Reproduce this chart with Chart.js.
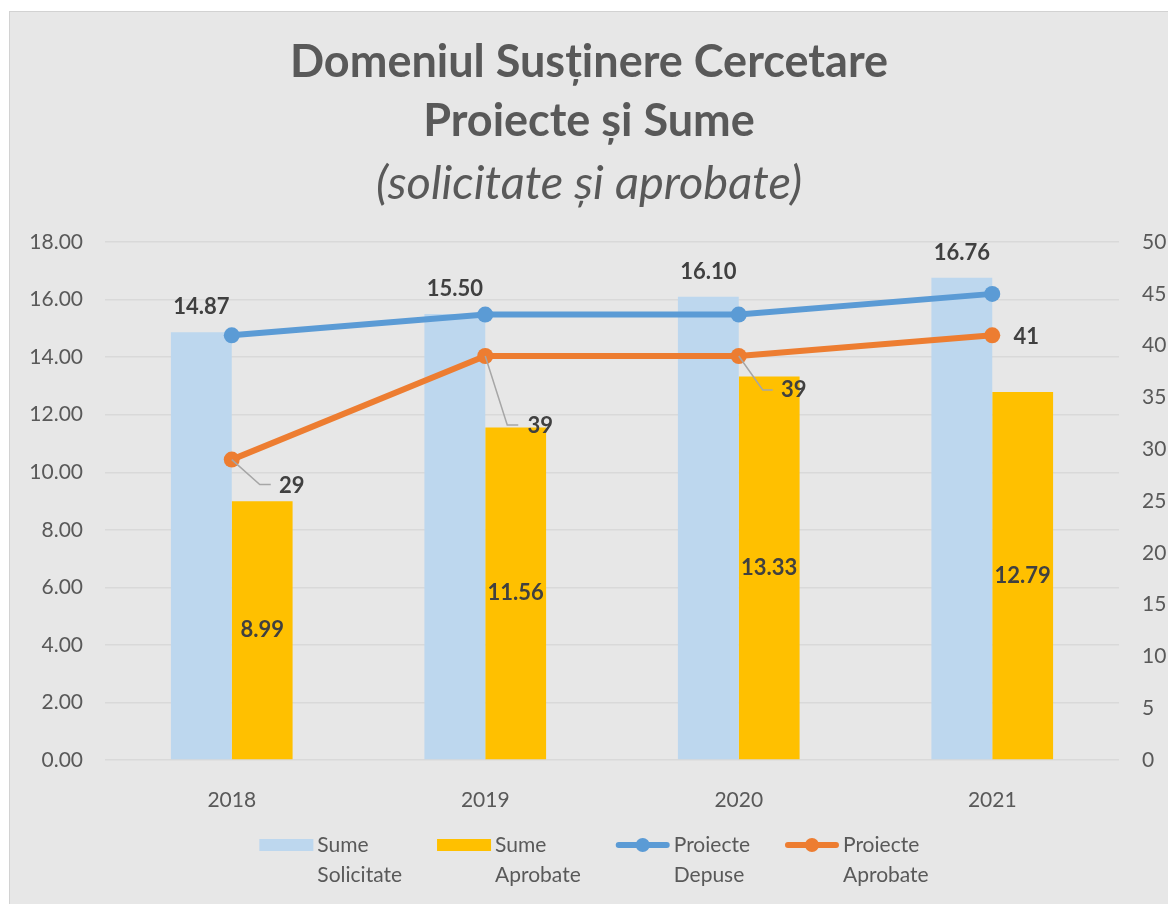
<!DOCTYPE html>
<html>
<head>
<meta charset="utf-8">
<title>Domeniul Susținere Cercetare</title>
<script src="https://cdn.jsdelivr.net/npm/chart.js@4.4.1/dist/chart.umd.min.js"></script>
<style>
    html, body { margin: 0; padding: 0; background: #fff; }
    #wrap {
        position: absolute; left: 9px; top: 11px;
        width: 1159px; height: 893px;
        border-left: 1px solid #d2d2d2; border-top: 1px solid #d2d2d2;
        box-sizing: border-box; background: #e7e7e7;
    }
    canvas { display: block; }
</style>
</head>
<body>
<div id="wrap"><canvas id="chart" width="1158" height="892"></canvas></div>
<script>
// date
const years = ['2018', '2019', '2020', '2021'];
const sumeSolicitate = [14.87, 15.50, 16.10, 16.76];
const sumeAprobate = [8.99, 11.56, 13.33, 12.79];
const proiecteDepuse = [41, 43, 43, 45];
const proiecteAprobate = [29, 39, 39, 41];
const sumeTicks = { min: 0, max: 18, step: 2 };
const proiecteTicks = { min: 0, max: 50, step: 5 };

const FONT = 'Lato, "Open Sans", sans-serif';
const TEXT = '#595959';
const LABEL = '#404040';

// etichete cu valori (fara chartjs-datalabels)
const valueLabels = {
    id: 'valueLabels',
    afterDatasetsDraw(chart, args, opts) {
        const ctx = chart.ctx;
        ctx.save();
        ctx.font = `bold 22px ${FONT}`;
        ctx.fillStyle = LABEL;
        ctx.textAlign = 'center';
        ctx.textBaseline = 'middle';

        chart.getDatasetMeta(0).data.forEach((bar, i) => {
            ctx.fillText(sumeSolicitate[i].toFixed(2), bar.x, bar.y - 25);
        });
        chart.getDatasetMeta(1).data.forEach((bar, i) => {
            ctx.fillText(sumeAprobate[i].toFixed(2), bar.x, (bar.y + bar.base) / 2);
        });

        chart.getDatasetMeta(3).data.forEach((pt, i) => {
            const o = opts.offsets[i];
            if (o.leader) {
                ctx.strokeStyle = '#a6a6a6';
                ctx.lineWidth = 1.5;
                ctx.beginPath();
                ctx.moveTo(pt.x, pt.y);
                ctx.lineTo(pt.x + o.leader[0], pt.y + o.leader[1]);
                ctx.lineTo(pt.x + o.leader[2], pt.y + o.leader[1]);
                ctx.stroke();
            }
            ctx.fillText(String(proiecteAprobate[i]), pt.x + o.dx, pt.y + o.dy);
        });
        ctx.restore();
    }
};

// legenda pe doua randuri, ca in Excel
const twoLineLegend = {
    id: 'twoLineLegend',
    afterDraw(chart, args, opts) {
        const ctx = chart.ctx;
        const items = chart.data.datasets.map(ds => ({
            lines: ds.label.split(' '),
            color: ds.type === 'line' ? ds.borderColor : ds.backgroundColor,
            isLine: ds.type === 'line'
        }));
        ctx.save();
        ctx.font = `21px ${FONT}`;
        const swatch = 54, gap = 4, spacing = 35;
        const widths = items.map(it => swatch + gap + Math.max(...it.lines.map(l => ctx.measureText(l).width)));
        const total = widths.reduce((a, b) => a + b, 0) + spacing * (items.length - 1);
        let x = chart.width / 2 - total / 2 + opts.shift;
        const y = opts.y;

        items.forEach((it, i) => {
            if (it.isLine) {
                ctx.strokeStyle = it.color;
                ctx.lineWidth = 6;
                ctx.lineCap = 'round';
                ctx.beginPath();
                ctx.moveTo(x + 3, y);
                ctx.lineTo(x + swatch - 3, y);
                ctx.stroke();
                ctx.fillStyle = it.color;
                ctx.beginPath();
                ctx.arc(x + swatch / 2, y, 7, 0, Math.PI * 2);
                ctx.fill();
            } else {
                ctx.fillStyle = it.color;
                ctx.fillRect(x, y - 6, swatch, 12);
            }
            ctx.fillStyle = TEXT;
            ctx.textAlign = 'left';
            ctx.textBaseline = 'middle';
            it.lines.forEach((l, k) => ctx.fillText(l, x + swatch + gap, y + k * 30));
            x += widths[i] + spacing;
        });
        ctx.restore();
    }
};

const ctx = document.getElementById('chart').getContext('2d');
new Chart(ctx, {
    type: 'bar',
    data: {
        labels: years,
        datasets: [
            {
                label: 'Sume Solicitate',
                data: sumeSolicitate,
                backgroundColor: '#bdd7ee',
                yAxisID: 'y',
                order: 2
            },
            {
                label: 'Sume Aprobate',
                data: sumeAprobate,
                backgroundColor: '#ffc000',
                yAxisID: 'y',
                order: 2
            },
            {
                type: 'line',
                label: 'Proiecte Depuse',
                data: proiecteDepuse,
                borderColor: '#5b9bd5',
                backgroundColor: '#5b9bd5',
                borderWidth: 6,
                pointRadius: 8,
                pointBorderWidth: 0,
                pointBackgroundColor: '#5b9bd5',
                yAxisID: 'y1',
                order: 1
            },
            {
                type: 'line',
                label: 'Proiecte Aprobate',
                data: proiecteAprobate,
                borderColor: '#ed7d31',
                backgroundColor: '#ed7d31',
                borderWidth: 6,
                pointRadius: 8,
                pointBorderWidth: 0,
                pointBackgroundColor: '#ed7d31',
                yAxisID: 'y1',
                order: 0
            }
        ]
    },
    options: {
        responsive: false,
        animation: false,
        categoryPercentage: 0.48,
        barPercentage: 1.0,
        layout: { padding: 0 },
        plugins: {
            legend: { display: false },
            tooltip: { enabled: false },
            title: {
                display: true,
                text: ['Domeniul Susținere Cercetare', 'Proiecte și Sume'],
                color: TEXT,
                font: { family: FONT, size: 45, weight: 'bold', lineHeight: 1.311 },
                padding: { top: 21, bottom: 2 }
            },
            subtitle: {
                display: true,
                text: '(solicitate și aprobate)',
                color: TEXT,
                font: { family: FONT, size: 47, style: 'italic', weight: 'normal', lineHeight: 1.3 },
                padding: { top: 0, bottom: 28 }
            },
            valueLabels: {
                offsets: [
                    { dx: 60, dy: 26, leader: [28, 25, 39] },
                    { dx: 55, dy: 70, leader: [22, 69, 33] },
                    { dx: 55, dy: 34, leader: [24, 34, 34] },
                    { dx: 34, dy: 2 }
                ]
            },
            twoLineLegend: { y: 833, shift: 5 }
        },
        scales: {
            x: {
                grid: { display: false },
                border: { display: false },
                ticks: { color: TEXT, font: { family: FONT, size: 21 }, padding: 20 },
                afterFit: s => { s.height = 144; }
            },
            y: {
                position: 'left',
                min: sumeTicks.min,
                max: sumeTicks.max,
                grid: { color: '#d9d9d9', lineWidth: 1.5, drawTicks: false },
                border: { display: false },
                ticks: {
                    stepSize: sumeTicks.step,
                    color: TEXT,
                    font: { family: FONT, size: 21 },
                    padding: 22,
                    callback: v => v.toFixed(2)
                },
                afterFit: s => { s.width = 95; }
            },
            y1: {
                position: 'right',
                min: proiecteTicks.min,
                max: proiecteTicks.max,
                grid: { display: false, drawTicks: false },
                border: { display: false },
                ticks: {
                    stepSize: proiecteTicks.step,
                    color: TEXT,
                    font: { family: FONT, size: 21 },
                    padding: 23
                },
                afterFit: s => { s.width = 49; }
            }
        }
    },
    plugins: [valueLabels, twoLineLegend]
});
</script>
</body>
</html>
